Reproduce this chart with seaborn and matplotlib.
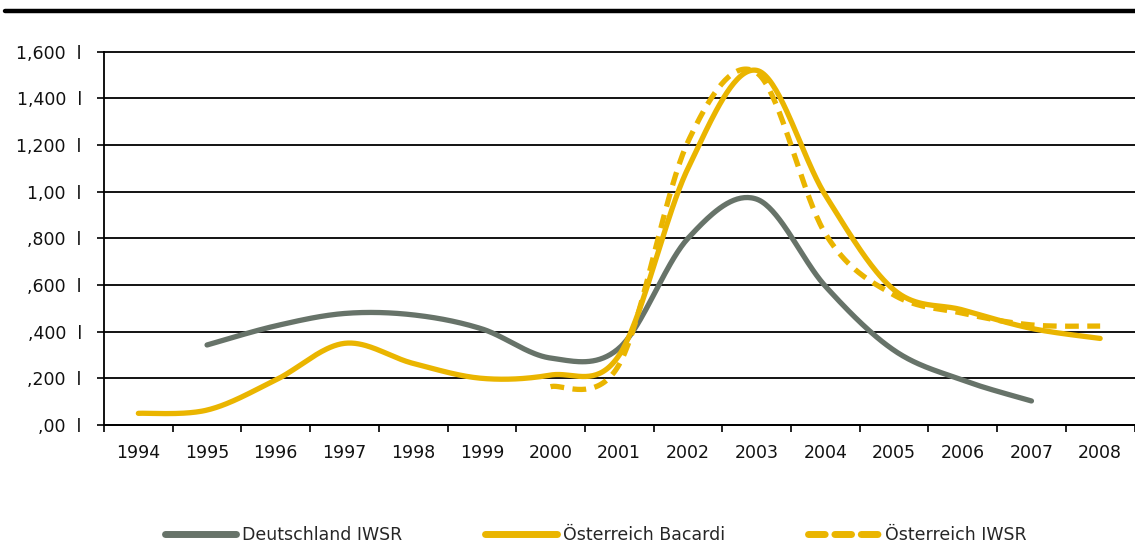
import numpy as np
import pandas as pd
import matplotlib
matplotlib.use("Agg")
import matplotlib.pyplot as plt
from matplotlib.lines import Line2D
import seaborn as sns

# ---- data ----
years = [1994, 1995, 1996, 1997, 1998, 1999, 2000, 2001, 2002, 2003, 2004, 2005, 2006, 2007, 2008]
deutschland_iwsr = [np.nan, 343, 425, 478, 472, 412, 287, 330, 800, 968, 595, 320, 192, 103, np.nan]
oesterreich_bacardi = [50, 64, 193, 350, 264, 200, 214, 300, 1100, 1520, 985, 579, 493, 414, 371]
oesterreich_iwsr = [np.nan, np.nan, np.nan, np.nan, np.nan, np.nan, 164, 260, 1214, 1510, 820, 557, 479, 429, 424]
series_names = ["Deutschland IWSR", "Österreich Bacardi", "Österreich IWSR"]
y_ticks = [0, 200, 400, 600, 800, 1000, 1200, 1400, 1600]
y_tick_labels = [",00  l", ",200  l", ",400  l", ",600  l", ",800  l", "1,00  l", "1,200  l", "1,400  l", "1,600  l"]

GRAY = "#677369"
YELLOW = "#EAB500"

sns.set_theme(style="white")
plt.rcParams["font.family"] = ["DejaVu Sans"]


def smooth_curve(xs, ys, n=40):
    """Excel-like smoothed line (Catmull-Rom Bezier) through the data points."""
    xs = np.asarray(xs, float)
    ys = np.asarray(ys, float)
    m = ~np.isnan(ys)
    xs, ys = xs[m], ys[m]
    P = np.column_stack([xs, ys])
    out = []
    for i in range(len(P) - 1):
        p0 = P[i - 1] if i > 0 else P[i]
        p1 = P[i]
        p2 = P[i + 1]
        p3 = P[i + 2] if i + 2 < len(P) else P[i + 1]
        c1 = p1 + (p2 - p0) / 6.0
        c2 = p2 - (p3 - p1) / 6.0
        t = np.linspace(0, 1, n)[:, None]
        seg = ((1 - t) ** 3) * p1 + 3 * ((1 - t) ** 2) * t * c1 + 3 * (1 - t) * t ** 2 * c2 + t ** 3 * p2
        out.append(seg if i == 0 else seg[1:])
    c = np.vstack(out)
    return c[:, 0], c[:, 1]


fig = plt.figure(figsize=(11.35, 5.57), dpi=100)
ax = fig.add_axes([104 / 1135, 1 - 425 / 557, 1030.5 / 1135, 373.3 / 557])

xidx = np.arange(len(years))
styles = [
    (deutschland_iwsr, GRAY, "-"),
    (oesterreich_bacardi, YELLOW, "-"),
    (oesterreich_iwsr, YELLOW, "--"),
]
for (vals, col, ls), name in zip(styles, series_names):
    sx, sy = smooth_curve(xidx, vals)
    df = pd.DataFrame({"x": sx, "y": sy})
    line_kw = dict(solid_capstyle="round")
    if ls == "--":
        line_kw = dict(dashes=(2.6, 1.6), dash_capstyle="butt")
    sns.lineplot(data=df, x="x", y="y", ax=ax, color=col, linewidth=3.8,
                 sort=False, estimator=None, legend=False, **line_kw)

ax.set_xlim(-0.5, len(years) - 0.5)
ax.set_ylim(0, 1600)

# gridlines
for v in y_ticks:
    ax.axhline(v, color="black", linewidth=1.3, zorder=0.5, clip_on=False)

# y axis
ax.set_yticks(y_ticks)
ax.set_yticklabels(y_tick_labels, fontsize=12.5, color="#111111")
ax.tick_params(axis="y", which="major", left=True, length=5, width=1.2, color="black", pad=11)

# x axis: ticks at category boundaries, labels at centres
ax.set_xticks(np.arange(len(years) + 1) - 0.5)
ax.set_xticklabels([])
ax.set_xticks(xidx, minor=True)
ax.set_xticklabels([str(y) for y in years], minor=True, fontsize=12.5, color="#111111")
ax.tick_params(axis="x", which="major", bottom=True, length=5, width=1.2, color="black", direction="out")
ax.tick_params(axis="x", which="minor", bottom=False, length=0, pad=14)
ax.set_xlabel("")
ax.set_ylabel("")

for s in ["top", "right"]:
    ax.spines[s].set_visible(False)
ax.spines["left"].set_color("black")
ax.spines["left"].set_linewidth(1.3)
ax.spines["bottom"].set_color("black")
ax.spines["bottom"].set_linewidth(1.3)
ax.grid(False)

# top rule
fig.add_artist(Line2D([5 / 1135, 1.0], [1 - 10.5 / 557] * 2, color="black", linewidth=3.2))

# legend
handles = [
    Line2D([], [], color=GRAY, linewidth=5, solid_capstyle="round"),
    Line2D([], [], color=YELLOW, linewidth=5, solid_capstyle="round"),
    Line2D([], [], color=YELLOW, linewidth=5, linestyle=(0, (2.4, 1.4)), dash_capstyle="round"),
]
fig.legend(handles, series_names, loc="center", bbox_to_anchor=(0.525, 1 - 535 / 557),
           ncol=3, frameon=False, fontsize=12.5, handlelength=4.1, handletextpad=0.35,
           columnspacing=4.8)

fig.savefig("out.png", dpi=100)
